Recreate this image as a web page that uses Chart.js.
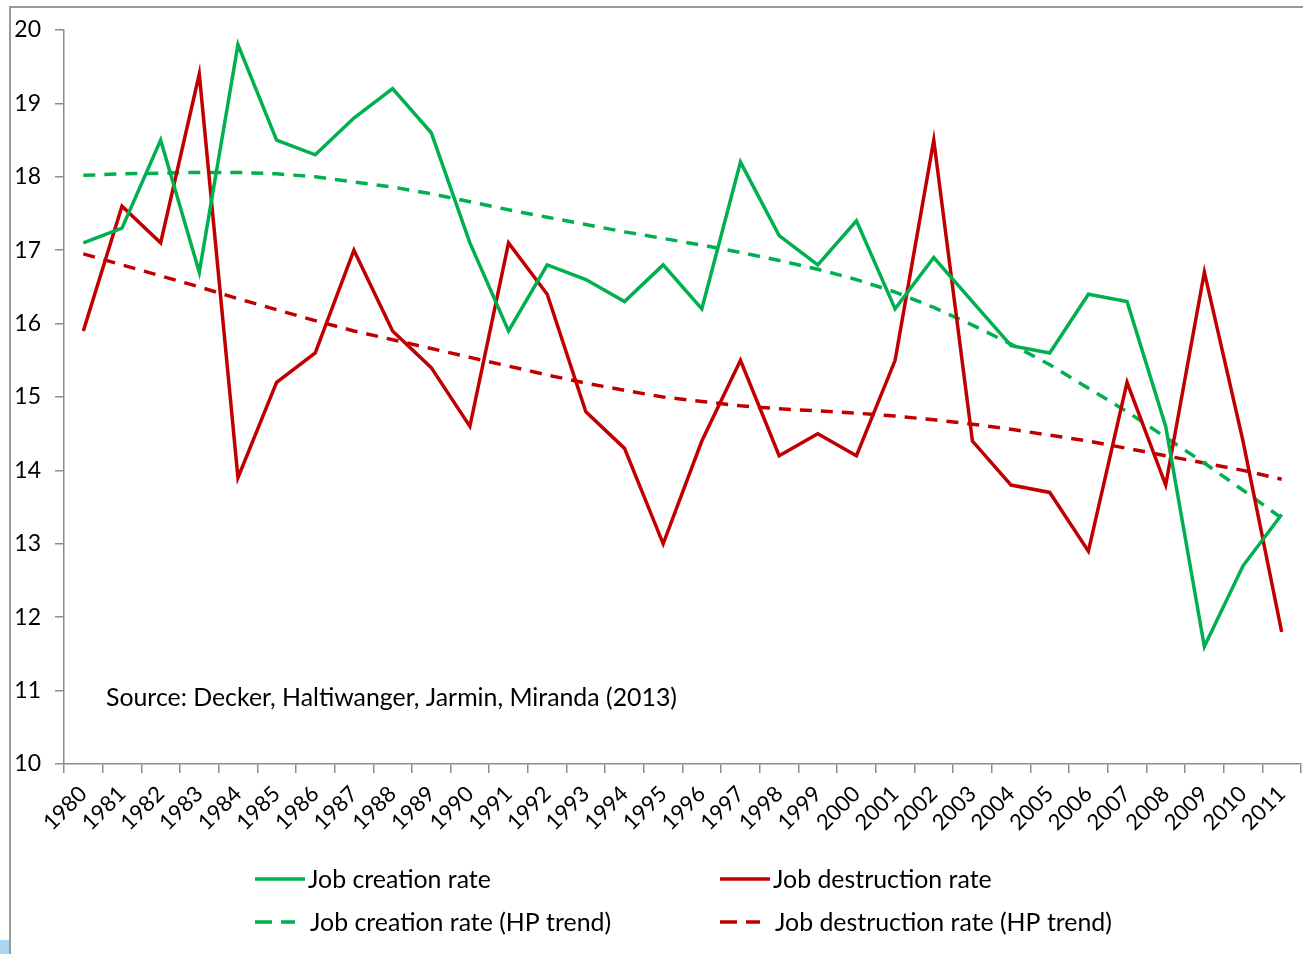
<!DOCTYPE html>
<html>
<head>
<meta charset="utf-8">
<script src="https://cdn.jsdelivr.net/npm/chart.js@4"></script>
<style>
  html, body { margin: 0; padding: 0; background: #fff; }
  #wrap { position: relative; width: 1303px; height: 954px; overflow: hidden; }
  #frame { position: absolute; left: 9px; top: 6px; width: 1400px; height: 1000px;
           border-left: 2px solid #9a9a9a; border-top: 2px solid #9a9a9a; }
  #corner { position: absolute; left: 0; top: 940px; width: 9px; height: 14px; background: #a9d7f2; }
  canvas { position: absolute; left: 0; top: 0; }
</style>
</head>
<body>
<div id="wrap">
  <div id="frame"></div>
  <div id="corner"></div>
  <canvas id="jobChart" width="1303" height="954"></canvas>
</div>
<script>
const years = ['1980', '1981', '1982', '1983', '1984', '1985', '1986', '1987', '1988', '1989',
    '1990', '1991', '1992', '1993', '1994', '1995', '1996', '1997', '1998', '1999',
    '2000', '2001', '2002', '2003', '2004', '2005', '2006', '2007', '2008', '2009',
    '2010', '2011'];

const creation = [17.1, 17.3, 18.5, 16.7, 19.8, 18.5, 18.3, 18.8, 19.2, 18.6,
    17.1, 15.9, 16.8, 16.6, 16.3, 16.8, 16.2, 18.2, 17.2, 16.8,
    17.4, 16.2, 16.9, 16.3, 15.7, 15.6, 16.4, 16.3, 14.6, 11.6,
    12.7, 13.4];

const destruction = [15.9, 17.6, 17.1, 19.4, 13.9, 15.2, 15.6, 17.0, 15.9, 15.4,
    14.6, 17.1, 16.4, 14.8, 14.3, 13.0, 14.4, 15.5, 14.2, 14.5,
    14.2, 15.5, 18.5, 14.4, 13.8, 13.7, 12.9, 15.2, 13.8, 16.7,
    14.4, 11.8];

const creationTrend = [18.02, 18.04, 18.05, 18.06, 18.06, 18.04, 18.0, 17.93, 17.86, 17.77,
    17.66, 17.55, 17.45, 17.35, 17.25, 17.16, 17.07, 16.97, 16.86, 16.74,
    16.6, 16.43, 16.22, 15.98, 15.72, 15.44, 15.12, 14.8, 14.45, 14.1,
    13.73, 13.35];

const destructionTrend = [16.95, 16.8, 16.65, 16.5, 16.34, 16.19, 16.04, 15.9, 15.78, 15.66,
    15.54, 15.42, 15.3, 15.19, 15.09, 15.0, 14.94, 14.88, 14.84, 14.81,
    14.78, 14.74, 14.69, 14.63, 14.56, 14.48, 14.4, 14.3, 14.2, 14.1,
    14.0, 13.88];

const GREEN = '#00b050';
const RED = '#c00000';
const FONT = 'Lato';

// fit a font size so a string spans a given width
function fitSize(ctx, text, width) {
    ctx.font = '100px ' + FONT;
    return 100 * width / ctx.measureText(text).width;
}

// Source note and bottom legend drawn by hand
const extras = {
    id: 'extras',
    afterDraw(chart) {
        const ctx = chart.ctx;
        const area = chart.chartArea;
        const y = chart.scales.y;
        ctx.save();
        ctx.fillStyle = '#000';
        ctx.textBaseline = 'middle';
        ctx.textAlign = 'left';

        const src = 'Source: Decker, Haltiwanger, Jarmin, Miranda (2013)';
        ctx.font = fitSize(ctx, src, 571) + 'px ' + FONT;
        ctx.fillText(src, area.left + 42, y.getPixelForValue(10.9));

        const legSize = fitSize(ctx, 'Job destruction rate (HP trend)', 337);
        const items = [
            { text: 'Job creation rate', color: GREEN, dash: [], x: 255, y: 879 },
            { text: 'Job destruction rate', color: RED, dash: [], x: 720, y: 879 },
            { text: 'Job creation rate (HP trend)', color: GREEN, dash: [17, 9], x: 255, y: 922 },
            { text: 'Job destruction rate (HP trend)', color: RED, dash: [17, 9], x: 720, y: 922 }
        ];
        items.forEach(it => {
            ctx.beginPath();
            ctx.strokeStyle = it.color;
            ctx.lineWidth = 3.5;
            ctx.setLineDash(it.dash);
            ctx.moveTo(it.x, it.y);
            ctx.lineTo(it.x + (it.dash.length ? 40 : 50), it.y);
            ctx.stroke();
            ctx.setLineDash([]);
            ctx.font = legSize + 'px ' + FONT;
            ctx.fillText(it.text, it.x + (it.dash.length ? 55 : 53), it.y + 1);
        });
        ctx.restore();
    }
};

const ctx = document.getElementById('jobChart').getContext('2d');
const jobChart = new Chart(ctx, {
    type: 'line',
    data: {
        labels: years,
        datasets: [
            { label: 'Job creation rate', data: creation, borderColor: GREEN, borderWidth: 3.5 },
            { label: 'Job destruction rate', data: destruction, borderColor: RED, borderWidth: 3.5 },
            { label: 'Job creation rate (HP trend)', data: creationTrend, borderColor: GREEN, borderWidth: 3.5, borderDash: [12, 9] },
            { label: 'Job destruction rate (HP trend)', data: destructionTrend, borderColor: RED, borderWidth: 3.5, borderDash: [12, 9] }
        ]
    },
    options: {
        responsive: false,
        animation: false,
        elements: {
            point: { radius: 0 },
            line: { tension: 0, borderCapStyle: 'butt', borderJoinStyle: 'miter' }
        },
        layout: { padding: { left: 10, right: 2, top: 30, bottom: 110 } },
        plugins: {
            legend: { display: false },
            tooltip: { enabled: false }
        },
        scales: {
            x: {
                offset: true,
                grid: {
                    offset: true,
                    drawOnChartArea: false,
                    drawTicks: true,
                    tickLength: 9,
                    color: '#8c8c8c',
                    lineWidth: 1.5
                },
                border: { color: '#8c8c8c', width: 1.5 },
                ticks: {
                    autoSkip: false,
                    maxRotation: 45,
                    minRotation: 45,
                    padding: 8,
                    color: '#000',
                    font: { family: FONT, size: 22 }
                },
                afterFit(scale) {
                    scale.height = 80;
                    scale.paddingLeft = 0;
                    scale.paddingRight = 0;
                }
            },
            y: {
                min: 10,
                max: 20,
                grid: {
                    drawOnChartArea: false,
                    drawTicks: true,
                    tickLength: 9,
                    color: '#8c8c8c',
                    lineWidth: 1.5
                },
                border: { color: '#8c8c8c', width: 1.5 },
                ticks: {
                    stepSize: 1,
                    padding: 14,
                    color: '#000',
                    font: { family: FONT, size: 23 }
                },
                afterFit(scale) { scale.width = 54; }
            }
        }
    },
    plugins: [extras]
});
</script>
</body>
</html>
